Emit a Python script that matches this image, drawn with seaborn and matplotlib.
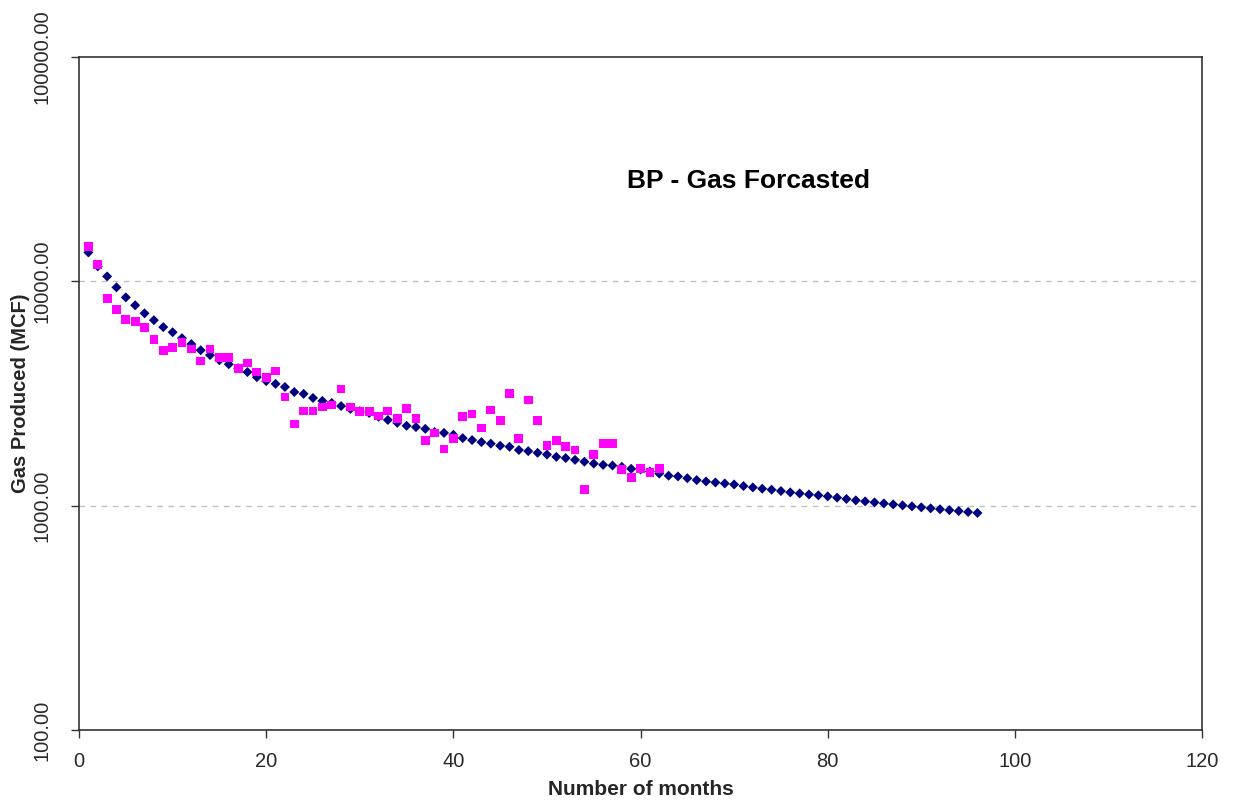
import matplotlib
matplotlib.use("Agg")
import matplotlib.pyplot as plt
import matplotlib.ticker as mticker
import seaborn as sns
import pandas as pd

# ---- data ----
forecast_months = list(range(1, 97))
forecast_gas = [13450, 11660, 10520, 9400, 8480, 7820, 7200, 6710, 6250, 5930,
                5580, 5250, 4930, 4690, 4450, 4270, 4100, 3940, 3740, 3590,
                3490, 3380, 3210, 3150, 3020, 2930, 2870, 2780, 2700, 2640,
                2590, 2490, 2410, 2340, 2270, 2240, 2200, 2130, 2110, 2070,
                2000, 1960, 1920, 1890, 1850, 1830, 1770, 1750, 1720, 1690,
                1650, 1630, 1600, 1570, 1540, 1520, 1510, 1490, 1460, 1450,
                1420, 1390, 1360, 1350, 1325, 1300, 1282, 1269, 1256, 1243,
                1223, 1206, 1190, 1178, 1162, 1146, 1134, 1122, 1112, 1100,
                1086, 1071, 1056, 1045, 1034, 1023, 1013, 1003, 993, 983,
                973, 964, 955, 946, 937, 928]

actual_months = list(range(1, 63))
actual_gas = [14300, 11900, 8400, 7500, 6780, 6640, 6250, 5520, 4930, 5090,
              5350, 4990, 4410, 4990, 4590, 4590, 4100, 4320, 3940, 3740,
              3980, 3050, 2310, 2640, 2640, 2750, 2810, 3310, 2750, 2620,
              2620, 2510, 2640, 2440, 2700, 2440, 1950, 2110, 1790, 2000,
              2490, 2560, 2220, 2670, 2390, 3150, 1990, 2960, 2390, 1850,
              1950, 1830, 1770, 1180, 1690, 1900, 1890, 1450, 1330, 1460,
              1400, 1460]

x_ticks = [0, 20, 40, 60, 80, 100, 120]
y_ticks = [100, 1000, 10000, 100000]
y_tick_labels = ["100.00", "1000.00", "10000.00", "100000.00"]
title_text = "BP - Gas Forcasted"
x_label = "Number of months"
y_label = "Gas Produced (MCF)"

df_fc = pd.DataFrame({"month": forecast_months, "gas": forecast_gas})
df_act = pd.DataFrame({"month": actual_months, "gas": actual_gas})

sns.set_style("ticks")
plt.rcParams["font.family"] = ["Liberation Sans", "DejaVu Sans"]

fig = plt.figure(figsize=(12.33, 8.06), dpi=100)
ax = fig.add_axes([0.0641, 0.0943, 0.9108, 0.8350])

sns.scatterplot(data=df_fc, x="month", y="gas", ax=ax, marker="D", s=26,
                color="#000080", edgecolor="none", linewidth=0, zorder=3)
sns.scatterplot(data=df_act, x="month", y="gas", ax=ax, marker="s", s=40,
                color="#FF00FF", edgecolor="none", linewidth=0, zorder=4)

ax.set_yscale("log")
ax.set_xlim(0, 120)
ax.set_ylim(100, 100000)
ax.set_xticks(x_ticks)
ax.set_yticks(y_ticks)
ax.set_yticklabels(y_tick_labels)
ax.yaxis.set_minor_locator(mticker.NullLocator())
ax.xaxis.set_minor_locator(mticker.NullLocator())

for lab in ax.get_xticklabels():
    lab.set_fontsize(14.5)
    lab.set_color("#2a2a2a")
for lab in ax.get_yticklabels():
    lab.set_fontsize(14.5)
    lab.set_color("#2a2a2a")
    lab.set_rotation(90)
    lab.set_va("center")

ax.tick_params(axis="both", direction="out", length=6, width=1, color="#333333")
ax.tick_params(axis="x", pad=10)
ax.tick_params(axis="y", pad=14)

for sp in ax.spines.values():
    sp.set_visible(True)
    sp.set_color("#333333")
    sp.set_linewidth(1.2)

ax.grid(False)
for yv in [1000, 10000]:
    ax.axhline(yv, color="#c0c0c0", linestyle=(0, (4, 4)), linewidth=1, zorder=1)

ax.set_xlabel(x_label, fontsize=15, fontweight="bold", labelpad=6)
ax.set_ylabel(y_label, fontsize=14.5, fontweight="bold")
ax.yaxis.set_label_coords(-0.044, 0.5)

ax.text(0.596, 0.815, title_text, transform=ax.transAxes, ha="center",
        va="center", fontsize=19, fontweight="bold", color="black")

fig.savefig("out.png", dpi=100)
